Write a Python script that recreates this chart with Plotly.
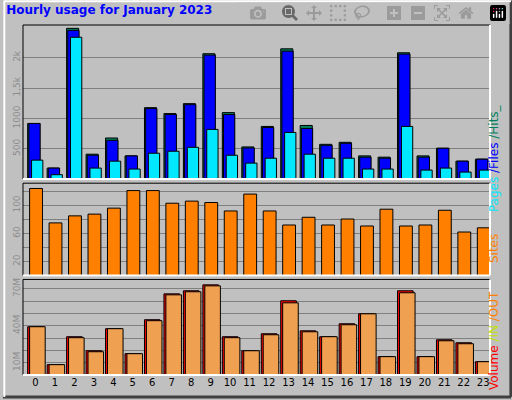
import plotly.graph_objects as go

hours = list(range(24))
hits = [916, 180, 2485, 409, 676, 381, 1177, 1079, 1243, 2066, 1095, 529,
        867, 2147, 883, 572, 605, 381, 360, 2082, 381, 507, 294, 327]
files = [916, 180, 2452, 392, 638, 381, 1161, 1063, 1226, 2044, 1063, 512,
         850, 2109, 834, 556, 589, 360, 343, 2060, 360, 507, 294, 327]
pages = [311, 71, 2338, 180, 294, 164, 425, 458, 523, 818, 392, 262,
         343, 768, 409, 343, 343, 164, 164, 867, 147, 180, 114, 147]
sites = [124, 75, 85, 87.5, 96, 121, 121, 103, 106, 104, 92, 116,
         92, 72, 83, 72, 80.5, 70.6, 94.5, 70.6, 72, 93, 62, 68]
volume = [39.2, 8.4, 31.1, 19.7, 37.6, 17.3, 44.9, 65.9, 68.4, 73.2, 31.1, 19.7,
          33.5, 60.3, 35.9, 31.1, 41.6, 49.7, 14.9, 68.4, 14.9, 28.6, 26.2, 10.8]
vol_out = [39.2, 8.4, 30.3, 18.9, 37.6, 17.3, 44.1, 65.1, 67.6, 72.4, 30.3, 19.7,
           32.7, 58.6, 35.1, 31.1, 40.8, 49.7, 14.9, 66.8, 14.9, 27.8, 25.4, 10.8]

BG = "#C0C0C0"
edge = dict(color="black", width=1)

fig = go.Figure()

def bars(y, color, offset, width, axis):
    fig.add_trace(go.Bar(x=hours, y=y, marker=dict(color=color, line=edge),
                         offset=offset, width=width, xaxis="x", yaxis=axis,
                         hoverinfo="skip"))

bars(hits, "#00805C", -0.4, 0.62, "y")
bars(files, "#0000FF", -0.34, 0.58, "y")
bars(pages, "#00E8FF", -0.2, 0.58, "y")
bars(sites, "#FF8000", -0.3, 0.66, "y2")
bars(volume, "#FF0000", -0.4, 0.8, "y3")
bars(vol_out, "#EFA050", -0.3, 0.8, "y3")

tick_font = dict(family="DejaVu Sans", size=9, color="#8C8C8C")
common_y = dict(showgrid=True, gridcolor="#808080", gridwidth=1, zeroline=False,
                tickangle=-90, tickfont=tick_font, ticks="", showline=False)

fig.update_layout(
    width=512, height=400, barmode="overlay", showlegend=False,
    paper_bgcolor=BG, plot_bgcolor=BG,
    margin=dict(l=20, r=22, t=25, b=23),
    title=dict(text="<b>Hourly usage for January 2023</b>", x=0.012, y=0.985,
               xanchor="left", yanchor="top",
               font=dict(family="DejaVu Sans", size=12, color="#0000FF")),
    xaxis=dict(range=[-0.64, 23.35], tickvals=hours, showgrid=False, zeroline=False,
               ticks="", tickfont=dict(family="DejaVu Sans", size=10, color="black"),
               anchor="y3"),
    yaxis=dict(domain=[0.56, 1], range=[0, 2540], tickvals=[500, 1000, 1500, 2000],
               ticktext=["500", "1000", "1,5k", "2k"], **common_y),
    yaxis2=dict(domain=[0.284, 0.548], range=[0, 131.5],
                tickvals=[20, 40, 60, 80, 100, 120],
                ticktext=["20", "", "60", "", "100", ""], **common_y),
    yaxis3=dict(domain=[0, 0.273], range=[0, 77.6],
                tickvals=[10, 20, 30, 40, 50, 60, 70],
                ticktext=["10M", "", "", "40M", "", "", "70M"], **common_y),
)

# panel frames
for y0, y1 in [(0.56, 1), (0.284, 0.548), (0, 0.273)]:
    fig.add_shape(type="rect", xref="x domain", yref="paper", x0=0, x1=1, y0=y0, y1=y1,
                  line=dict(color="black", width=1))
    fig.add_shape(type="line", xref="x domain", yref="paper", x0=0, x1=1, y0=y0, y1=y0,
                  line=dict(color="white", width=2))
    fig.add_shape(type="line", xref="x domain", yref="paper", x0=1, x1=1, y0=y0, y1=y1,
                  line=dict(color="white", width=2))

# outer 3D border
fig.add_shape(type="line", xref="paper", yref="paper", x0=1.0447, x1=1.0447,
              y0=-0.063, y1=1.07, line=dict(color="#404040", width=3))
fig.add_shape(type="line", xref="paper", yref="paper", x0=-0.043, x1=1.045,
              y0=-0.063, y1=-0.063, line=dict(color="#404040", width=3))
fig.add_shape(type="line", xref="paper", yref="paper", x0=-0.04, x1=-0.04,
              y0=-0.063, y1=1.07, line=dict(color="white", width=2))
fig.add_shape(type="line", xref="paper", yref="paper", x0=-0.04, x1=1.045,
              y0=1.068, y1=1.068, line=dict(color="white", width=2))

lab_font = dict(family="DejaVu Sans", size=12)
fig.add_annotation(xref="paper", yref="paper", x=1.028, y=0.78, textangle=-90,
                   showarrow=False, font=lab_font,
                   text="<span style='color:#00E8FF'>Pages</span>"
                        "<span style='color:#0000FF'> /Files</span>"
                        "<span style='color:#00805C'> /Hits_</span>")
fig.add_annotation(xref="paper", yref="paper", x=1.028, y=0.36, textangle=-90,
                   showarrow=False, font=lab_font,
                   text="<span style='color:#FF8000'>Sites</span>")
fig.add_annotation(xref="paper", yref="paper", x=1.028, y=-0.05, yanchor="bottom",
                   textangle=-90, showarrow=False, font=lab_font,
                   text="<span style='color:#FF0000'>Volume</span>"
                        "<span style='color:#C0E000'> /IN</span>"
                        "<span style='color:#FF8000'> /OUT</span>")

fig.write_html("out.html",
               post_script="document.body.style.margin='0';"
                           "document.body.style.background='#C0C0C0';")
